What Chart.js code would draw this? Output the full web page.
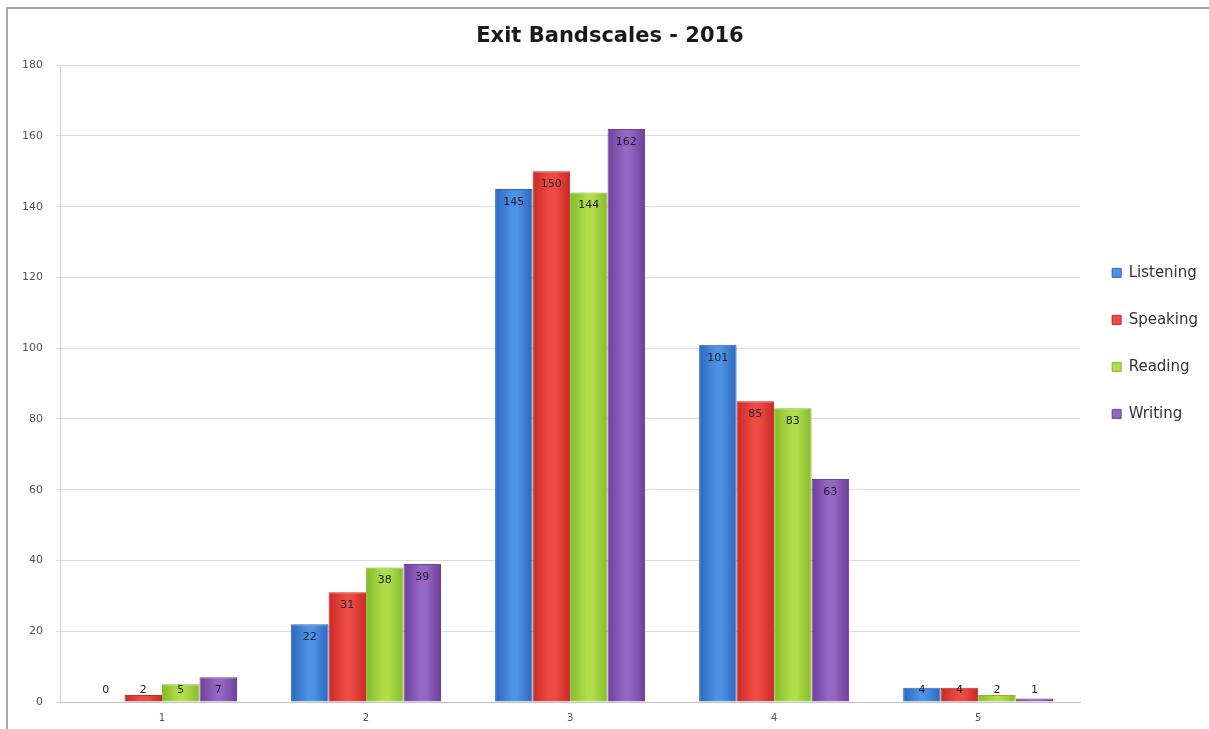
<!DOCTYPE html>
<html>
<head>
<meta charset="utf-8">
<title>Exit Bandscales - 2016</title>
<script src="https://cdn.jsdelivr.net/npm/chart.js@4.4.1/dist/chart.umd.min.js"></script>
<style>
    html, body { margin: 0; padding: 0; background: #fff; }
    #wrap { position: relative; width: 1209px; height: 729px; overflow: hidden; }
    #frame {
        position: absolute; left: 6px; top: 7px; right: -4px; bottom: -4px;
        border-left: 2px solid #a6a6a6; border-top: 2px solid #a6a6a6;
        pointer-events: none;
    }
    #chart { position: absolute; left: 0; top: 0; }
</style>
</head>
<body>
<div id="wrap">
    <canvas id="chart" width="1209" height="729"></canvas>
    <div id="frame"></div>
</div>
<script>
// Bandscale counts per skill
var categories = ['1', '2', '3', '4', '5'];
var listening = [0, 22, 145, 101, 4];
var speaking = [2, 31, 150, 85, 4];
var reading = [5, 38, 144, 83, 2];
var writing = [7, 39, 162, 63, 1];
var yMin = 0;
var yMax = 180;
var yStep = 20;

// [edge, centre] shades for the cylinder-ish bar fill
var shades = {
    'Listening': ['#2c67bd', '#4d92e4'],
    'Speaking': ['#c92a25', '#ee4b42'],
    'Reading': ['#86b92c', '#b0de4a'],
    'Writing': ['#6e3f9a', '#9467c2']
};

function makeDataset(label, values) {
    return {
        label: label,
        data: values,
        // scriptable so every bar gets its own options object
        backgroundColor: function() { return shades[label][1]; },
        borderColor: shades[label][0],
        borderWidth: 1,
        borderSkipped: 'bottom'
    };
}

// Paint each bar with a horizontal gradient once its geometry is known
var barGradient = {
    id: 'barGradient',
    beforeDatasetsDraw: function(chart) {
        var ctx = chart.ctx;
        chart.data.datasets.forEach(function(ds, i) {
            var meta = chart.getDatasetMeta(i);
            var s = shades[ds.label];
            meta.data.forEach(function(el) {
                var p = el.getProps(['x', 'width'], true);
                var g = ctx.createLinearGradient(p.x - p.width / 2, 0, p.x + p.width / 2, 0);
                g.addColorStop(0, s[0]);
                g.addColorStop(0.45, s[1]);
                g.addColorStop(0.6, s[1]);
                g.addColorStop(1, s[0]);
                el.options.backgroundColor = g;
            });
        });
    },
    beforeDraw: function(chart) {
        var items = chart.legend && chart.legend.legendItems;
        if (!items) return;
        items.forEach(function(it) {
            var s = shades[it.text];
            if (s) {
                it.fillStyle = s[1];
                it.strokeStyle = s[0];
            }
        });
    }
};

// Value labels just inside the top of each bar
var valueLabels = {
    id: 'valueLabels',
    afterDatasetsDraw: function(chart) {
        var ctx = chart.ctx;
        var base = chart.scales.y.getPixelForValue(0);
        ctx.save();
        ctx.font = '11px "DejaVu Sans", sans-serif';
        ctx.fillStyle = '#1c1c2a';
        ctx.textAlign = 'center';
        ctx.textBaseline = 'middle';
        chart.data.datasets.forEach(function(ds, i) {
            var meta = chart.getDatasetMeta(i);
            meta.data.forEach(function(el, j) {
                var p = el.getProps(['x', 'y'], true);
                var ty = Math.min(p.y + 13, base - 12);
                ctx.fillText(String(ds.data[j]), p.x, ty);
            });
        });
        ctx.restore();
    }
};

var config = {
    type: 'bar',
    data: {
        labels: categories,
        datasets: [
            makeDataset('Listening', listening),
            makeDataset('Speaking', speaking),
            makeDataset('Reading', reading),
            makeDataset('Writing', writing)
        ]
    },
    options: {
        responsive: false,
        animation: false,
        layout: { padding: { left: 12, top: 16, right: 1, bottom: -5 } },
        datasets: {
            bar: { categoryPercentage: 0.735, barPercentage: 1.0 }
        },
        scales: {
            x: {
                grid: { display: false, drawTicks: false, tickLength: 0 },
                border: { color: '#bfbfbf' },
                ticks: {
                    color: '#555',
                    padding: 10,
                    font: { family: '"DejaVu Sans", sans-serif', size: 10 }
                }
            },
            y: {
                min: yMin,
                max: yMax,
                afterFit: function(scale) { scale.width = 48; },
                grid: { color: '#dcdcdc', tickLength: 4 },
                border: { color: '#d0d0d0' },
                ticks: {
                    stepSize: yStep,
                    color: '#555',
                    padding: 13,
                    font: { family: '"DejaVu Sans", sans-serif', size: 11 }
                }
            }
        },
        plugins: {
            title: {
                display: true,
                text: 'Exit Bandscales - 2016',
                color: '#1a1a1a',
                font: { family: '"DejaVu Sans", sans-serif', size: 21, weight: 'bold' },
                padding: { top: 8, bottom: 16 }
            },
            legend: {
                position: 'right',
                align: 'start',
                title: { display: true, text: '', padding: { top: 203 } },
                labels: {
                    boxWidth: 9,
                    boxHeight: 9,
                    padding: 32,
                    color: '#333',
                    font: { family: '"DejaVu Sans", sans-serif', size: 15 }
                }
            },
            tooltip: { enabled: false }
        }
    },
    plugins: [barGradient, valueLabels]
};

new Chart(document.getElementById('chart').getContext('2d'), config);
</script>
</body>
</html>
